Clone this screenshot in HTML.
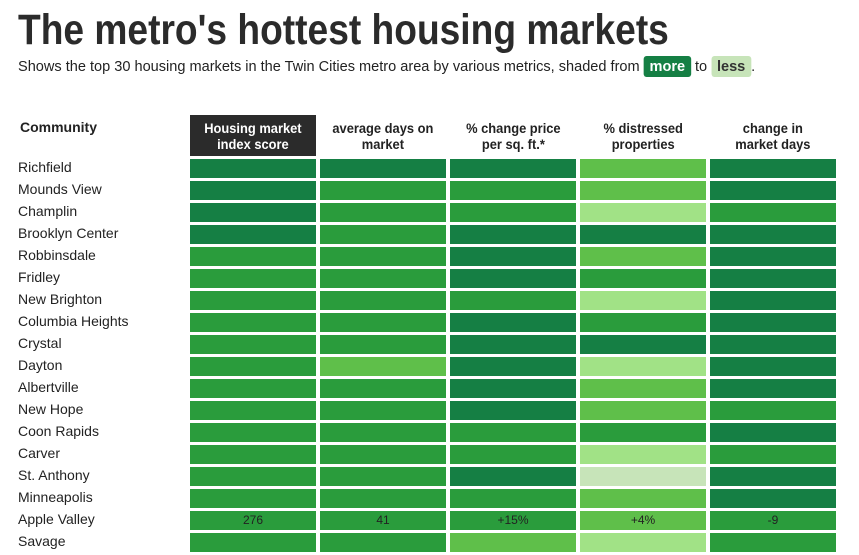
<!DOCTYPE html>
<html><head><meta charset="utf-8"><style>
body{margin:0;background:#fff;width:859px;height:555px;overflow:hidden;font-family:"Liberation Sans",sans-serif;color:#222;position:relative}
.t{position:absolute;left:18px;top:6px;font-size:43px;font-weight:bold;white-space:nowrap;transform-origin:0 0;transform:scaleX(0.864);color:#2b2b2b}
.s{position:absolute;left:18px;top:56px;font-size:15px;white-space:nowrap;transform-origin:0 0;transform:scaleX(0.97)}
.pill{display:inline-block;padding:2px 6px;border-radius:3px;font-weight:bold}
.h{position:absolute;top:115px;height:41px;width:126px;font-size:14px;font-weight:bold;text-align:center;line-height:16px;display:flex;align-items:center;justify-content:center}
.h span{display:inline-block;transform:scaleX(0.92);white-space:nowrap}
.n{position:absolute;left:18px;font-size:14px;line-height:19px}
.c{position:absolute;height:19px;width:126px;font-size:12px;text-align:center;line-height:19px;color:#222}
</style></head><body>
<div class="t">The metro's hottest housing markets</div>
<div class="s">Shows the top 30 housing markets in the Twin Cities metro area by various metrics, shaded from <span class="pill" style="background:#157f44;color:#fff">more</span> to <span class="pill" style="background:#c7e4b9;color:#333">less</span>.</div>
<div class="h" style="left:20px;justify-content:flex-start;width:150px;top:115px;height:24px">Community</div>
<div id="tbl"></div>
<script>
const communities=["Richfield","Mounds View","Champlin","Brooklyn Center","Robbinsdale","Fridley","New Brighton","Columbia Heights","Crystal","Dayton","Albertville","New Hope","Coon Rapids","Carver","St. Anthony","Minneapolis","Apple Valley","Savage"];
const headers=[["Housing market","index score"],["average days on","market"],["% change price","per sq. ft.*"],["% distressed","properties"],["change in","market days"]];
const scoreLevel=[4,4,4,4,3,3,3,3,3,3,3,3,3,3,3,3,3,3];
const daysLevel=[4,3,3,3,3,3,3,3,3,2,3,3,3,3,3,3,3,3];
const priceLevel=[4,3,3,4,4,4,3,4,4,4,4,4,3,3,4,3,3,2];
const distressLevel=[2,2,1,4,2,3,1,3,4,1,2,2,3,1,0,2,2,1];
const changeLevel=[4,4,3,4,4,4,4,4,4,4,4,3,4,3,4,4,3,3];
const shownRow=16;
const shownValues=["276","41","+15%","+4%","-9"];
const palette=["#c7e4b9","#a1e286","#5fbf4a","#2a9c3c","#157f44"];
const cols=[scoreLevel,daysLevel,priceLevel,distressLevel,changeLevel];
const tbl=document.getElementById('tbl');
headers.forEach((h,i)=>{const d=document.createElement('div');d.className='h';d.style.left=(190+i*130)+'px';
if(i===0){d.style.background='#2b2b2b';d.style.color='#fff';}
d.innerHTML='<span>'+h[0]+'<br>'+h[1]+'</span>';


tbl.appendChild(d);});
communities.forEach((name,r)=>{const y=159+r*22;
const n=document.createElement('div');n.className='n';n.style.top=(y-1)+'px';n.textContent=name;


tbl.appendChild(n);
cols.forEach((col,c)=>{const d=document.createElement('div');d.className='c';d.style.left=(190+c*130)+'px';d.style.top=y+'px';d.style.background=palette[col[r]];
if(r===shownRow)d.textContent=shownValues[c];


tbl.appendChild(d);});});
</script>
</body></html>
